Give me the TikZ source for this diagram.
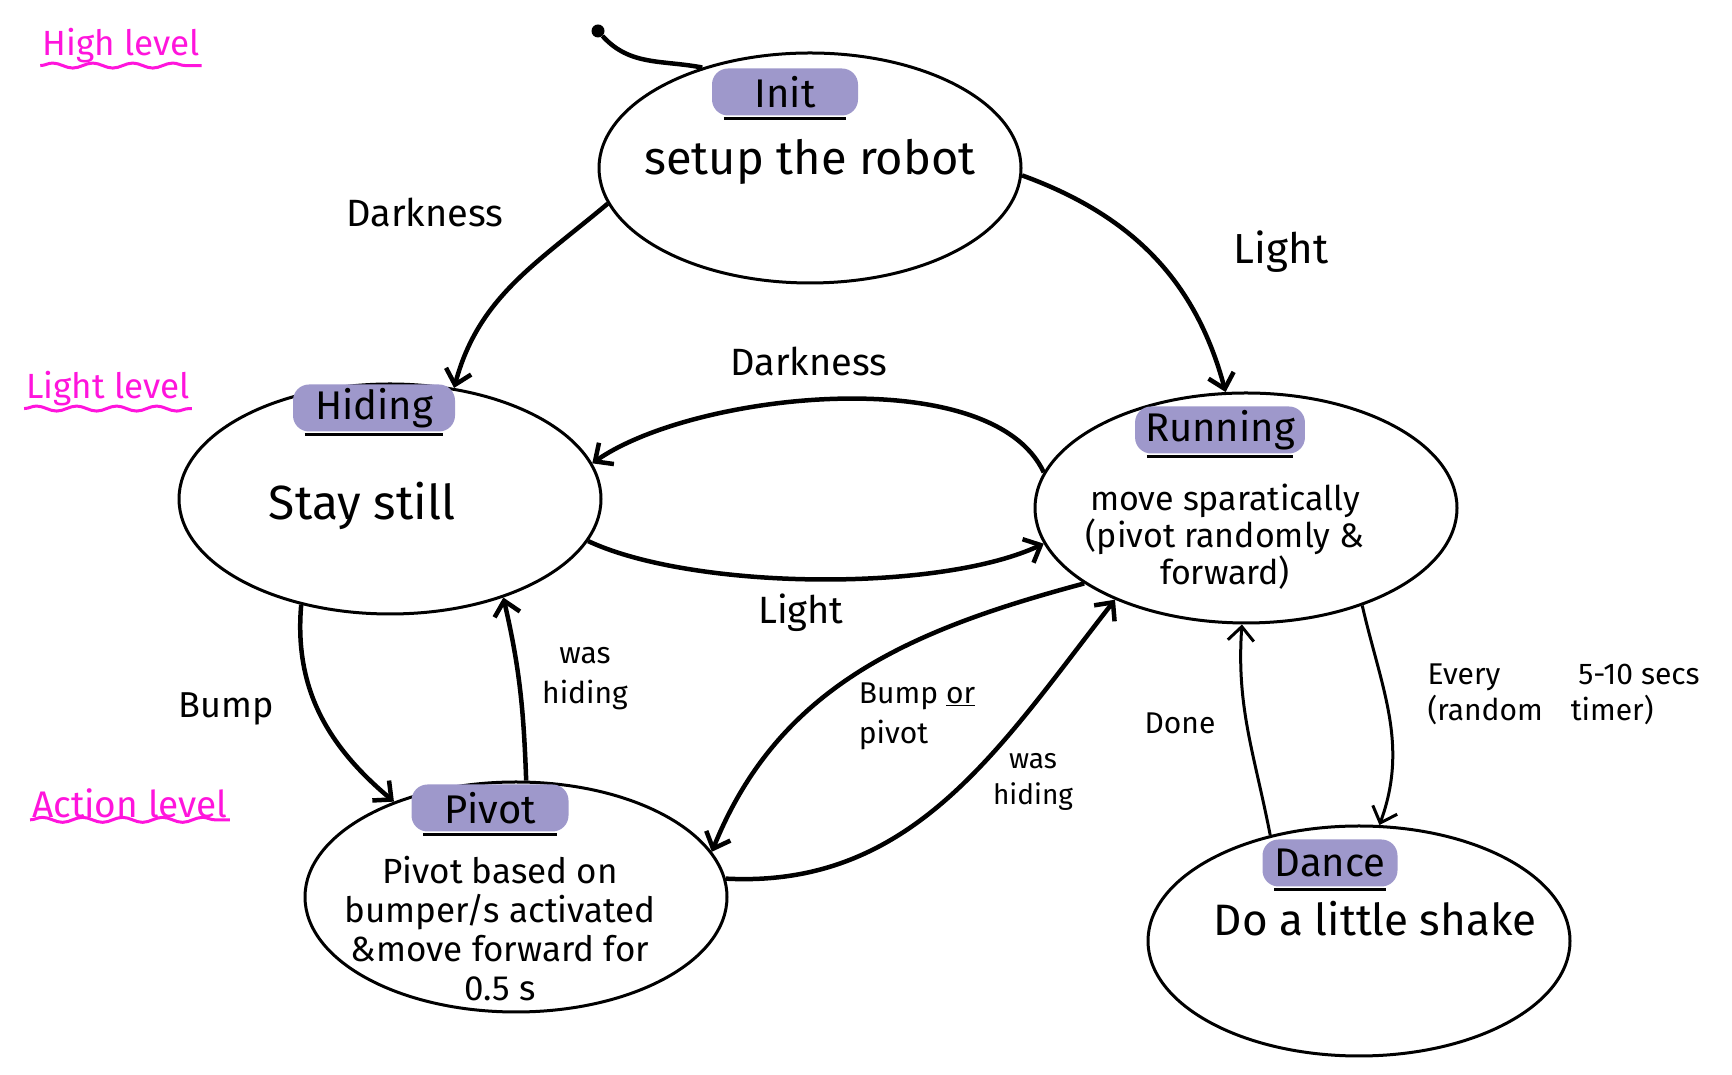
\documentclass[tikz,border=0pt]{standalone}
\usepackage{fontspec}
\setmainfont{Fira Sans}
\usetikzlibrary{shapes.geometric,arrows.meta,decorations.pathmorphing}

\begin{document}
\begin{tikzpicture}[x=1pt,y=1pt,
    state/.style={draw=borderColour, ellipse, line width=3pt, minimum width=422pt, minimum height=230pt, inner sep=0pt},
    title/.style={fill=hlColour, rounded corners=16pt, minimum height=47pt, minimum width=140pt, inner xsep=10pt, font=\fontsize{40}{44}\selectfont},
    uline/.style={draw=borderColour, line width=3.5pt},
    edge/.style={draw=borderColour, line width=4.5pt, -{Straight Barb[length=14pt,width=26pt]}},
    thinedge/.style={edge, line width=3pt},
    big/.style={font=\fontsize{48}{54}\selectfont},
    lbl/.style={font=\fontsize{38}{44}\selectfont},
    small/.style={font=\fontsize{28}{36}\selectfont, align=center},
    level/.style={text=levelColour, font=\fontsize{35}{40}\selectfont, inner sep=2pt},
    wavy/.style={draw=levelColour, line width=3pt, decorate, decoration={snake, amplitude=2.5pt, segment length=40pt}}]
    % Define colours
    \definecolor{borderColour}{HTML}{000000}
    \definecolor{hlColour}{HTML}{9E98CB}
    \definecolor{levelColour}{HTML}{FF14DC}

    % Fix the page size
    \useasboundingbox (0,0) rectangle (1732,1075);

    % Level labels
    \node[level] (high) at (121,1029) {High level};
    \node[level] (lightlvl) at (108,686) {Light level};
    \node[level, font=\fontsize{37}{40}\selectfont] (action) at (130,272) {Action level};
    \draw[wavy] (high.south west) -- (high.south east);
    \draw[wavy] (lightlvl.south west) -- (lightlvl.south east);
    \draw[wavy] (action.south west) -- (action.south east);

    % States
    \node[state] (init) at (810,907) {};
    \node[state] (hiding) at (390,576) {};
    \node[state] (running) at (1246,567) {};
    \node[state] (pivot) at (516,178) {};
    \node[state] (dance) at (1359,134) {};

    % State titles
    \node[title, minimum width=146pt] (initT) at (785,983) {Init};
    \node[title, minimum width=162pt] (hidingT) at (374,667) {Hiding};
    \node[title, minimum width=165pt] (runningT) at (1220,645) {Running};
    \node[title, minimum width=157pt] (pivotT) at (490,267) {Pivot};
    \node[title, minimum width=135pt] (danceT) at (1330,212) {Dance};
    \foreach \t in {initT,hidingT,runningT,pivotT,danceT}
        \draw[uline] ([xshift=12pt,yshift=-3pt]\t.south west) -- ([xshift=-12pt,yshift=-3pt]\t.south east);

    % State texts
    \node[big, font=\fontsize{47}{54}\selectfont] (initB) at (810,913) {setup the robot};
    \node[big] (hidingB) at (362,569) {Stay still};
    \node[small, font=\fontsize{34}{37}\selectfont] (runningB) at (1225,538) {move sparatically\\(pivot randomly \&\\forward)};
    \node[small, font=\fontsize{35}{39}\selectfont] (pivotB) at (500,146) {Pivot based on\\bumper/s activated\\\&move forward for\\0.5 s};
    \node[big, font=\fontsize{44}{50}\selectfont] (danceB) at (1375,156) {Do a little shake};

    % Start point
    \node[circle, fill=borderColour, inner sep=0pt, minimum size=13pt] (start) at (598,1044) {};
    \draw[draw=borderColour, line width=4.5pt] (start) to[out=-48, in=169] (init.137);

    % Transitions
    \draw[edge] (init.190) to[out=220, in=75] (hiding.60);
    \draw[edge] (init.-2) to[out=-20, in=105] (running.100);
    \draw[edge] (running.170) to[out=115, in=35, looseness=0.7] (hiding.10);
    \draw[edge] (hiding.-12) to[out=-25, in=-155, looseness=0.65] (running.190);
    \draw[edge] (hiding.-130) to[out=-95, in=140] (pivot.142);
    \draw[edge] (pivot.85) to[out=92, in=-77] (hiding.-41);
    \draw[edge] (running.-155) to[out=195, in=68] (pivot.13);
    \draw[edge] (pivot.5) to[out=-3, in=-128] (running.-145);
    \draw[thinedge] (running.-40) to[out=-77, in=70] (dance.80);
    \draw[thinedge] (dance.130) to[out=101, in=-94] (running.-92);

    % Transition labels
    \node[lbl] (darkA) at (425,863) {Darkness};
    \node[lbl, font=\fontsize{42}{46}\selectfont] (lightA) at (1281,823) {Light};
    \node[lbl] (darkB) at (809,714) {Darkness};
    \node[lbl] (lightB) at (801,462) {Light};
    \node[lbl, font=\fontsize{36}{40}\selectfont] (bump) at (226,366) {Bump};
    \node[small, font=\fontsize{30}{40}\selectfont] (washidA) at (585,396) {was\\hiding};
    \node[small, align=left, font=\fontsize{30}{40}\selectfont] (bumpor) at (917,359) {Bump \underline{or}\\pivot};
    \node[small] (washidB) at (1033,293) {was\\hiding};
    \node[small, align=left, anchor=west, font=\fontsize{30}{36}\selectfont] (every) at (1424,381) {Every\hspace{78pt}5-10 secs\\(random\hspace{28pt}timer)};
    \node[small, font=\fontsize{30}{36}\selectfont] (done) at (1180,352) {Done};

\end{tikzpicture}
\end{document}
